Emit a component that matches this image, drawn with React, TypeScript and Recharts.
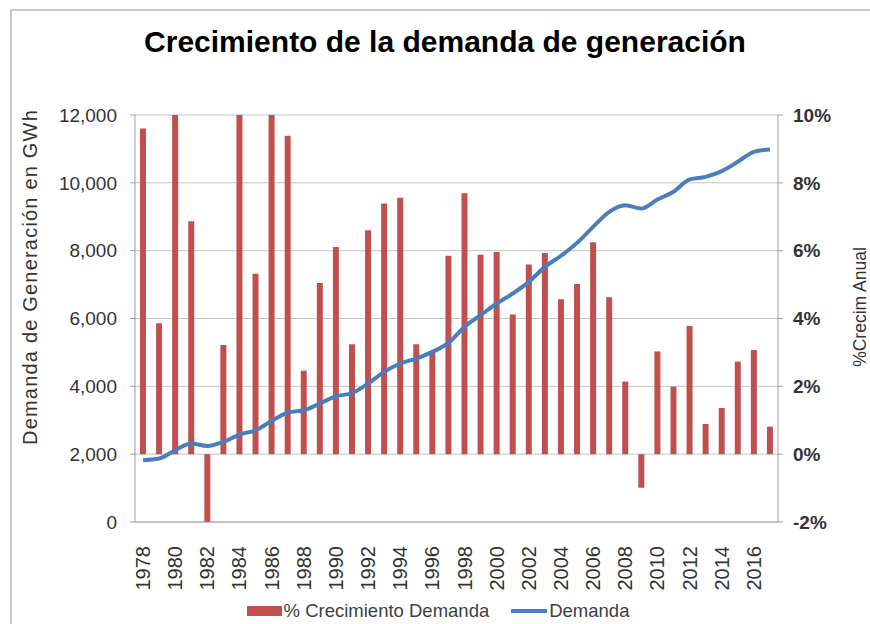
import { ComposedChart, Bar, Line, XAxis, YAxis, CartesianGrid, Legend } from 'recharts';

const YEARS = [
  '1978', '1979', '1980', '1981', '1982', '1983', '1984', '1985', '1986', '1987',
  '1988', '1989', '1990', '1991', '1992', '1993', '1994', '1995', '1996', '1997',
  '1998', '1999', '2000', '2001', '2002', '2003', '2004', '2005', '2006', '2007',
  '2008', '2009', '2010', '2011', '2012', '2013', '2014', '2015', '2016', '2017',
];

// % crecimiento anual (eje derecho)
const CRECIMIENTO = [
  9.6, 3.86, 11, 6.87, -2.5, 3.22, 10.8, 5.32, 10.6, 9.39,
  2.46, 5.05, 6.11, 3.24, 6.6, 7.39, 7.56, 3.24, 3.0, 5.85,
  7.69, 5.88, 5.96, 4.12, 5.59, 5.93, 4.57, 5.02, 6.25, 4.63,
  2.14, -0.99, 3.03, 1.99, 3.78, 0.89, 1.36, 2.73, 3.07, 0.81,
];

// demanda en GWh (eje izquierdo)
const DEMANDA = [
  1820, 1870, 2115, 2313, 2242, 2360, 2578, 2705, 2980, 3227,
  3295, 3492, 3708, 3800, 4083, 4425, 4673, 4820, 5015, 5280,
  5752, 6097, 6442, 6737, 7080, 7522, 7850, 8230, 8702, 9145,
  9342, 9245, 9510, 9735, 10100, 10177, 10345, 10620, 10915, 10985,
];

const LEFT_TICKS = [0, 2000, 4000, 6000, 8000, 10000, 12000];
const RIGHT_TICKS = [-2, 0, 2, 4, 6, 8, 10];

const data = YEARS.map((year, i) => ({
  year,
  crecimiento: CRECIMIENTO[i],
  demanda: DEMANDA[i],
}));

const RED = '#C0504D';
const BLUE = '#4A7EBB';
const FONT = '"Liberation Sans", Arial, sans-serif';

const YearTick = ({ x, y, payload }: any) => {
  const ty = y + 16;
  return (
    <text
      x={x}
      y={ty}
      transform={`rotate(-90 ${x} ${ty})`}
      textAnchor="end"
      dominantBaseline="central"
      fontFamily={FONT}
      fontSize={20}
      fill="#333"
    >
      {payload.value}
    </text>
  );
};

const LegendContent = () => (
  <div
    style={{
      display: 'flex',
      justifyContent: 'center',
      alignItems: 'center',
      height: 24,
      fontFamily: FONT,
      fontSize: 18.5,
      color: '#404040',
      paddingLeft: 6,
    }}
  >
    <span style={{ width: 35, height: 10, background: RED, marginRight: 2 }} />
    <span>% Crecimiento Demanda</span>
    <span style={{ width: 36, height: 4, background: BLUE, marginLeft: 22, marginRight: 2 }} />
    <span>Demanda</span>
  </div>
);

export default function App() {
  return (
    <div style={{ position: 'absolute', left: 0, top: 0, width: 870, height: 624, overflow: 'hidden', background: '#fff' }}>
      <div
        style={{
          position: 'absolute',
          left: 10,
          top: 9,
          width: 900,
          height: 700,
          borderLeft: '2px solid #c8c8c8',
          borderTop: '2px solid #c8c8c8',
        }}
      />
      <div
        style={{
          position: 'absolute',
          left: 0,
          top: 27,
          width: 890,
          textAlign: 'center',
          fontFamily: FONT,
          fontSize: 30,
          lineHeight: '30px',
          fontWeight: 'bold',
          color: '#000',
        }}
      >
        Crecimiento de la demanda de generación
      </div>
      <div style={{ position: 'absolute', left: 0, top: 0 }}>
        <ComposedChart
          width={870}
          height={624}
          data={data}
          margin={{ top: 115, right: 0, bottom: 1, left: 0 }}
        >
          <CartesianGrid vertical={false} stroke="#c4c4c4" yAxisId="left" />
          <XAxis
            dataKey="year"
            interval={1}
            height={77}
            tick={<YearTick />}
            tickLine={false}
            axisLine={{ stroke: '#a0a0a0' }}
          />
          <YAxis
            yAxisId="left"
            orientation="left"
            width={135}
            domain={[0, 12000]}
            ticks={LEFT_TICKS}
            tickFormatter={(v: number) => v.toLocaleString('en-US')}
            tick={{ fontSize: 19, fill: '#333', fontFamily: FONT }}
            tickSize={5}
            tickMargin={13}
            tickLine={{ stroke: '#a0a0a0' }}
            axisLine={{ stroke: '#a0a0a0' }}
            label={() => (
              <text
                x={30}
                y={277}
                transform="rotate(-90 30 277)"
                textAnchor="middle"
                dominantBaseline="central"
                fontFamily={FONT}
                fontSize={20}
                letterSpacing={1.2}
                fill="#333"
              >
                Demanda de Generación en GWh
              </text>
            )}
          />
          <YAxis
            yAxisId="right"
            orientation="right"
            width={92}
            domain={[-2, 10]}
            ticks={RIGHT_TICKS}
            allowDataOverflow
            tickFormatter={(v: number) => `${v}%`}
            tick={{ fontSize: 19, fill: '#333', fontFamily: FONT, fontWeight: 'bold' }}
            tickSize={5}
            tickMargin={10}
            tickLine={{ stroke: '#a0a0a0' }}
            axisLine={{ stroke: '#a0a0a0' }}
            label={() => (
              <text
                x={860}
                y={307}
                transform="rotate(-90 860 307)"
                textAnchor="middle"
                dominantBaseline="central"
                fontFamily={FONT}
                fontSize={17.5}
                fill="#333"
              >
                %Crecim Anual
              </text>
            )}
          />
          <Legend verticalAlign="bottom" content={<LegendContent />} />
          <Bar
            yAxisId="right"
            dataKey="crecimiento"
            name="% Crecimiento Demanda"
            fill={RED}
            barSize={6}
            isAnimationActive={false}
          />
          <Line
            yAxisId="left"
            type="monotone"
            dataKey="demanda"
            name="Demanda"
            stroke={BLUE}
            strokeWidth={4}
            dot={false}
            isAnimationActive={false}
          />
        </ComposedChart>
      </div>
    </div>
  );
}
